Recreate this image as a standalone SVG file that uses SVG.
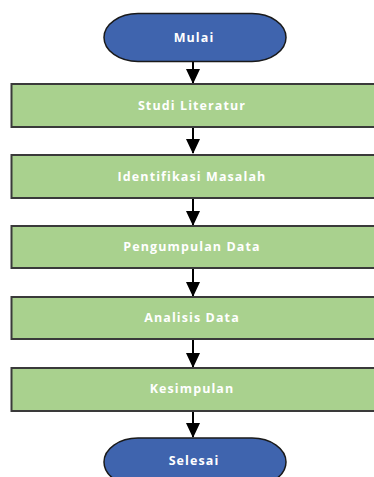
<svg xmlns="http://www.w3.org/2000/svg" width="374" height="477" viewBox="0 0 374 477">
<style>
.term{fill:#3F64AE;stroke:#1a1a1a;stroke-width:1.5}
.proc{fill:#A9D18E;stroke:#3a3a3a;stroke-width:2}
.lbl{fill:#ffffff;font-family:"Open Sans","Liberation Sans",sans-serif;font-weight:bold;font-size:12.5px;text-anchor:middle;letter-spacing:1.1px}
.con{stroke:#000;stroke-width:2;fill:none}
</style>
<defs>
<marker id="ah" markerWidth="8" markerHeight="7" refX="7" refY="3.5" orient="auto" markerUnits="strokeWidth">
<path d="M0,0 L7.5,3.5 L0,7 Z" fill="#000"/>
</marker>
</defs>
<rect width="374" height="477" fill="#ffffff"/>
<g id="connectors">
<line class="con" x1="193" y1="62" x2="193" y2="83" marker-end="url(#ah)"/>
<line class="con" x1="193" y1="128" x2="193" y2="153" marker-end="url(#ah)"/>
<line class="con" x1="193" y1="199" x2="193" y2="225" marker-end="url(#ah)"/>
<line class="con" x1="193" y1="269" x2="193" y2="296" marker-end="url(#ah)"/>
<line class="con" x1="193" y1="340" x2="193" y2="367" marker-end="url(#ah)"/>
<line class="con" x1="193" y1="412" x2="193" y2="437" marker-end="url(#ah)"/>
</g>
<g id="mulai">
<rect class="term" x="104" y="13.5" width="182" height="48" rx="34" ry="24"/>
<text class="lbl" x="194" y="42">Mulai</text>
</g>
<g id="studi-literatur">
<rect class="proc" x="11.5" y="84" width="370" height="43"/>
<text class="lbl" x="192" y="110">Studi Literatur</text>
</g>
<g id="identifikasi-masalah">
<rect class="proc" x="11.5" y="155" width="370" height="43"/>
<text class="lbl" x="192" y="181">Identifikasi Masalah</text>
</g>
<g id="pengumpulan-data">
<rect class="proc" x="11.5" y="226" width="370" height="42"/>
<text class="lbl" x="192" y="251">Pengumpulan Data</text>
</g>
<g id="analisis-data">
<rect class="proc" x="11.5" y="297" width="370" height="42"/>
<text class="lbl" x="192" y="322">Analisis Data</text>
</g>
<g id="kesimpulan">
<rect class="proc" x="11.5" y="368" width="370" height="43"/>
<text class="lbl" x="192" y="393">Kesimpulan</text>
</g>
<g id="selesai">
<rect class="term" x="104" y="438" width="182" height="48" rx="34" ry="24"/>
<text class="lbl" x="194" y="465">Selesai</text>
</g>
</svg>
